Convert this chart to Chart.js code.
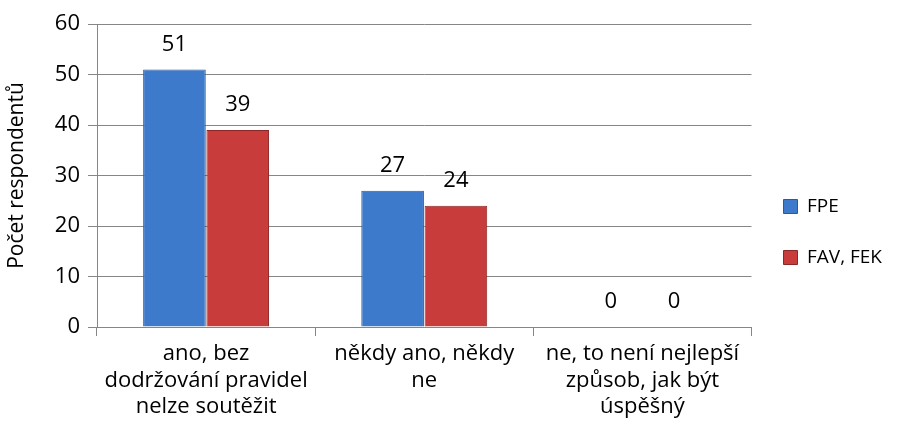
<!DOCTYPE html>
<html>
<head>
<meta charset="utf-8">
<script src="https://cdn.jsdelivr.net/npm/chart.js@4"></script>
<style>
  html, body { margin: 0; padding: 0; background: #fff; }
  #wrap { width: 908px; height: 440px; }
</style>
</head>
<body>
<div id="wrap"><canvas id="chart"></canvas></div>
<script>
const categories = [
    ['ano, bez', 'dodržování pravidel', 'nelze soutěžit'],
    ['někdy ano, někdy', 'ne'],
    ['ne, to není nejlepší', 'způsob, jak být', 'úspěšný']
];
const fpeValues = [51, 27, 0];
const favFekValues = [39, 24, 0];
const yTicks = [0, 10, 20, 30, 40, 50, 60];

const FONT = '"Open Sans", Lato, sans-serif';

// draws the number above each bar
const valueLabels = {
    id: 'valueLabels',
    afterDatasetsDraw(chart) {
        const ctx = chart.ctx;
        ctx.save();
        ctx.font = '22px ' + FONT;
        ctx.fillStyle = '#000';
        ctx.textAlign = 'center';
        ctx.textBaseline = 'middle';
        chart.data.datasets.forEach((ds, i) => {
            chart.getDatasetMeta(i).data.forEach((bar, j) => {
                ctx.fillText(ds.data[j], bar.x, bar.y - 25);
            });
        });
        ctx.restore();
    }
};

document.addEventListener('DOMContentLoaded', function() {
    const ctx = document.getElementById('chart').getContext('2d');
    new Chart(ctx, {
        type: 'bar',
        data: {
            labels: categories,
            datasets: [{
                label: 'FPE',
                data: fpeValues,
                backgroundColor: '#3e7acb',
                borderColor: '#2b5a9a',
                borderWidth: 1
            }, {
                label: 'FAV, FEK',
                data: favFekValues,
                backgroundColor: '#c93c3c',
                borderColor: '#8c2727',
                borderWidth: 1
            }]
        },
        options: {
            responsive: true,
            maintainAspectRatio: false,
            animation: false,
            barPercentage: 0.99,
            categoryPercentage: 0.58,
            layout: { padding: { top: 24, right: 16, bottom: 0, left: 0 } },
            plugins: {
                legend: {
                    position: 'right',
                    labels: {
                        font: { family: FONT, size: 19 },
                        color: '#000',
                        boxWidth: 14,
                        boxHeight: 14,
                        padding: 32
                    }
                },
                tooltip: { enabled: false }
            },
            scales: {
                x: {
                    afterFit: s => { s.height = 113; },
                    grid: {
                        offset: true,
                        drawOnChartArea: false,
                        drawTicks: true,
                        tickLength: 9,
                        color: '#868686'
                    },
                    border: { color: '#868686' },
                    ticks: {
                        font: { family: FONT, size: 22, lineHeight: 1.2 },
                        color: '#000',
                        padding: 5,
                        maxRotation: 0,
                        autoSkip: false
                    }
                },
                y: {
                    min: 0,
                    max: 60,
                    afterFit: s => { s.width = 97; },
                    afterBuildTicks: axis => { axis.ticks = yTicks.map(v => ({ value: v })); },
                    grid: { color: '#868686', tickLength: 9 },
                    border: { color: '#868686' },
                    ticks: {
                        font: { family: FONT, size: 22 },
                        color: '#000',
                        padding: 8
                    },
                    title: {
                        display: true,
                        text: 'Počet respondentů',
                        font: { family: FONT, size: 21 },
                        color: '#000',
                        padding: { top: 4, bottom: 0 }
                    }
                }
            }
        },
        plugins: [valueLabels]
    });
});
</script>
</body>
</html>
